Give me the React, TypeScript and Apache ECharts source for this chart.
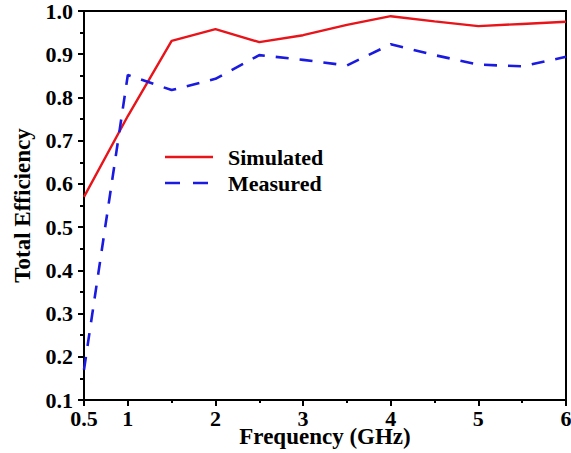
import React, { useEffect, useRef } from "react";
import * as echarts from "echarts";

const frequency = [0.5, 1, 1.5, 2, 2.5, 3, 3.5, 4, 4.5, 5, 5.5, 6];
const simulated = [0.57, 0.757, 0.931, 0.958, 0.928, 0.944, 0.968, 0.988, 0.976, 0.965, 0.97, 0.975];
const measured = [0.17, 0.852, 0.817, 0.843, 0.898, 0.887, 0.874, 0.923, 0.898, 0.876, 0.872, 0.894];
const xLabelValues = [0.5, 1, 2, 3, 4, 5, 6];
const xMinorValues = [1.5, 2.5, 3.5, 4.5, 5.5];
const seriesNames = ["Simulated", "Measured"];

const FONT = "Liberation Serif, Times New Roman, serif";
const RED = "#e8141a";
const BLUE = "#1a1ae0";

export default function App() {
  const ref = useRef<HTMLDivElement>(null);
  useEffect(() => {
    if (!ref.current) return;
    const chart = echarts.init(ref.current, null, { renderer: "svg" });
    const axisLine = { show: true, lineStyle: { color: "#000", width: 2 } };
    const textBase = { fontFamily: FONT, fontWeight: "bold", color: "#000" };
    chart.setOption({
      animation: false,
      backgroundColor: "#fff",
      grid: {
        left: 84,
        right: 5,
        top: 11,
        bottom: 53,
        show: true,
        borderColor: "#000",
        borderWidth: 2,
        outerBoundsMode: "none",
        containLabel: false,
      },
      graphic: [
        { type: "line", shape: { x1: 165, y1: 157, x2: 213, y2: 157 }, style: { stroke: RED, lineWidth: 2.4 } },
        {
          type: "text",
          x: 228,
          y: 157,
          style: { text: seriesNames[0], font: `bold 22px ${FONT}`, fill: "#000", textVerticalAlign: "middle", verticalAlign: "middle" },
        },
        { type: "line", shape: { x1: 165, y1: 183, x2: 213, y2: 183 }, style: { stroke: BLUE, lineWidth: 2.6, lineDash: [15, 13] } },
        {
          type: "text",
          x: 228,
          y: 183,
          style: { text: seriesNames[1], font: `bold 22px ${FONT}`, fill: "#000", textVerticalAlign: "middle", verticalAlign: "middle" },
        },
      ],
      xAxis: [
        {
          type: "value",
          min: 0.5,
          max: 6,
          name: "Frequency (GHz)",
          nameLocation: "middle",
          nameGap: 25,
          nameMoveOverlap: false,
          nameTextStyle: { ...textBase, fontSize: 23 },
          axisLine,
          splitLine: { show: false },
          axisTick: { show: true, length: 6, lineStyle: { width: 2, color: "#000" }, customValues: xLabelValues },
          axisLabel: {
            ...textBase,
            customValues: xLabelValues,
            margin: 7,
            fontSize: 22,
            formatter: (v: number) => String(v),
          },
        },
        {
          type: "value",
          min: 0.5,
          max: 6,
          position: "bottom",
          axisLine: { show: false },
          splitLine: { show: false },
          axisTick: { show: true, length: 3, lineStyle: { width: 2, color: "#000" }, customValues: xMinorValues },
          axisLabel: { show: false },
        },
      ],
      yAxis: {
        type: "value",
        min: 0.1,
        max: 1.0,
        interval: 0.1,
        name: "Total Efficiency",
        nameLocation: "middle",
        nameGap: 50,
        nameMoveOverlap: false,
        nameTextStyle: { ...textBase, fontSize: 23 },
        axisLine,
        splitLine: { show: false },
        axisTick: { show: true, length: 6, lineStyle: { width: 2, color: "#000" } },
        minorTick: { show: true, splitNumber: 2, length: 4, lineStyle: { width: 2, color: "#000" } },
        axisLabel: {
          ...textBase,
          margin: 11,
          fontSize: 22,
          formatter: (v: number) => v.toFixed(1),
        },
      },
      series: [
        {
          name: seriesNames[0],
          type: "line",
          data: frequency.map((f, i) => [f, simulated[i]]),
          symbol: "none",
          lineStyle: { color: RED, width: 2.4 },
          itemStyle: { color: RED },
        },
        {
          name: seriesNames[1],
          type: "line",
          data: frequency.map((f, i) => [f, measured[i]]),
          symbol: "none",
          lineStyle: { color: BLUE, width: 2.6, type: [13, 11] },
          itemStyle: { color: BLUE },
        },
      ],
    });
    return () => chart.dispose();
  }, []);
  return <div ref={ref} style={{ position: "fixed", left: 0, top: 0, width: 571, height: 453 }} />;
}
